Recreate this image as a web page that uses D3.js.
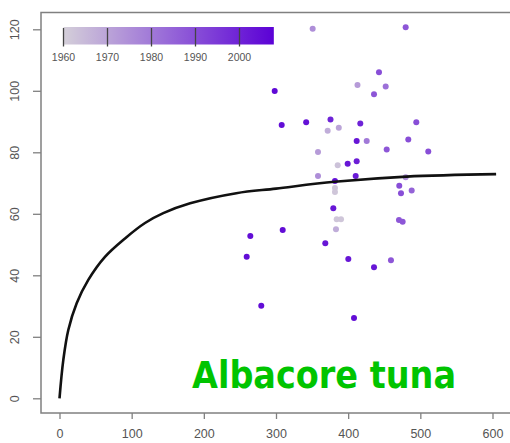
<!DOCTYPE html>
<html>
<head>
<meta charset="utf-8">
<script src="https://cdn.jsdelivr.net/npm/d3@7"></script>
<style>
  body { margin: 0; background: #fff; }
  svg { display: block; }
</style>
</head>
<body>
<script>
// scatter: length-at-age observations, coloured by year
let ages = [350.8, 479.7, 442.7, 412.9, 452.0, 435.8, 298.2, 307.9, 341.8, 375.5,
            371.6, 387.0, 416.8, 494.4, 411.8, 425.7, 483.3, 453.4, 511.0, 358.2,
            385.5, 399.3, 411.8, 358.2, 410.4, 381.7, 479.7, 381.7, 381.7, 379.4,
            384.1, 390.1, 383.1, 264.4, 309.3, 368.3, 259.4, 400.2, 435.8, 279.6,
            408.1, 470.8, 473.2, 488.0, 470.4, 475.5, 459.3];
let lengths = [120.2, 120.7, 106.0, 101.9, 101.4, 98.9, 99.9, 88.9, 89.8, 90.7,
               87.0, 88.0, 89.4, 89.8, 83.7, 83.7, 84.2, 80.9, 80.3, 80.1,
               75.8, 76.3, 77.1, 72.3, 72.3, 70.7, 71.9, 68.4, 67.1, 61.8,
               58.2, 58.2, 55.0, 52.8, 54.7, 50.4, 46.0, 45.3, 42.6, 30.1,
               26.1, 69.1, 66.7, 67.6, 58.0, 57.4, 44.9];
let years = [1975, 1988, 1990, 1972, 1982, 1988, 2006, 2005, 2004, 2000,
             1968, 1970, 2000, 1990, 2003, 1980, 1990, 1988, 1990, 1972,
             1963, 2003, 2001, 1975, 2002, 2004, 1975, 1962, 1962, 2003,
             1962, 1962, 1968, 2005, 2005, 2003, 2005, 2003, 2003, 2005,
             2005, 1990, 1990, 1985, 1988, 1988, 1988];

// fitted growth curve
let curveAge = [0, 5.3, 12.2, 23.8, 39.9, 63, 90.8, 118.5, 143.8, 181, 245, 300, 381, 481, 605];
let curveLen = [0, 12.5, 22.2, 30.9, 38.5, 46.0, 52.0, 57.0, 60.2, 63.4, 66.7, 68.2, 70.4, 72.1, 72.9];

let xTicks = [0, 100, 200, 300, 400, 500, 600];
let yTicks = [0, 20, 40, 60, 80, 100, 120];
let legendYears = [1960, 1970, 1980, 1990, 2000];

let width = 510,
    height = 443;

let box = { left: 41, top: 12.5, bottom: 413, right: 530 };

let svg = d3.select('body')
  .append('svg')
    .attr('width', width)
    .attr('height', height);

let xScale = d3.scaleLinear()
  .domain([0, 600])
  .range([59.5, 492.5]);

let yScale = d3.scaleLinear()
  .domain([0, 120])
  .range([398.3, 29.3]);

let color = d3.scaleLinear()
  .domain([1960, 2008])
  .range(['#d4cfd9', '#5a00d6'])
  .interpolate(d3.interpolateRgb);

// plot frame (right side runs off the picture)
svg.append('rect')
  .attr('x', box.left)
  .attr('y', box.top)
  .attr('width', box.right - box.left)
  .attr('height', box.bottom - box.top)
  .attr('fill', 'none')
  .attr('stroke', '#808080')
  .attr('stroke-width', 1.5);

// x axis
let xAxis = svg.append('g')
  .attr('transform', `translate(0,${box.bottom})`)
  .call(d3.axisBottom(xScale).tickValues(xTicks).tickSize(6).tickPadding(10));
xAxis.select('.domain').remove();

// y axis
let yAxis = svg.append('g')
  .attr('transform', `translate(${box.left},0)`)
  .call(d3.axisLeft(yScale).tickValues(yTicks).tickSize(8).tickPadding(0));
yAxis.select('.domain').remove();
yAxis.selectAll('text')
  .attr('x', 0)
  .attr('dy', 0)
  .attr('text-anchor', 'middle')
  .attr('transform', 'translate(-26,0) rotate(-90)')
  .attr('dominant-baseline', 'central');

svg.selectAll('.tick line').attr('stroke', '#808080').attr('stroke-width', 1.3);
svg.selectAll('.tick text')
  .attr('fill', '#555')
  .style('font-family', 'Liberation Sans, Arial, sans-serif')
  .style('font-size', '12.5px');

// points
let points = ages.map((a, i) => ({ age: a, len: lengths[i], year: years[i] }));
points.sort((a, b) => a.year - b.year);

svg.selectAll('circle.obs')
  .data(points)
  .enter()
  .append('circle')
    .attr('class', 'obs')
    .attr('cx', d => xScale(d.age))
    .attr('cy', d => yScale(d.len))
    .attr('r', 3)
    .attr('fill', d => color(d.year));

// growth curve
let line = d3.line()
  .x(d => xScale(d[0]))
  .y(d => yScale(d[1]))
  .curve(d3.curveCatmullRom.alpha(0.5));

svg.append('path')
  .datum(curveAge.map((a, i) => [a, curveLen[i]]))
  .attr('d', line)
  .attr('fill', 'none')
  .attr('stroke', '#111')
  .attr('stroke-width', 2.6);

// colour legend
let lx = d3.scaleLinear().domain([1960, 2000]).range([63.5, 239.5]);
let legendEnd = 2007.8;

let grad = svg.append('defs').append('linearGradient')
  .attr('id', 'yearGrad')
  .attr('x1', '0%').attr('x2', '100%')
  .attr('y1', '0%').attr('y2', '0%');
d3.range(0, 11).forEach(i => {
  let yr = 1960 + (legendEnd - 1960) * i / 10;
  grad.append('stop')
    .attr('offset', `${i * 10}%`)
    .attr('stop-color', color(yr));
});

svg.append('rect')
  .attr('x', lx(1960))
  .attr('y', 27)
  .attr('width', lx(legendEnd) - lx(1960))
  .attr('height', 17.5)
  .attr('fill', 'url(#yearGrad)');

let legend = svg.append('g');
legend.selectAll('line')
  .data(legendYears)
  .enter()
  .append('line')
    .attr('x1', d => lx(d))
    .attr('x2', d => lx(d))
    .attr('y1', 28)
    .attr('y2', 46.5)
    .attr('stroke', '#444')
    .attr('stroke-width', 1.3);

legend.selectAll('text')
  .data(legendYears)
  .enter()
  .append('text')
    .attr('x', d => lx(d))
    .attr('y', 61)
    .attr('text-anchor', 'middle')
    .attr('fill', '#555')
    .style('font-family', 'Liberation Sans, Arial, sans-serif')
    .style('font-size', '10.5px')
    .text(d => d);

// species label
svg.append('text')
  .attr('x', 192)
  .attr('y', 388)
  .attr('textLength', 264)
  .attr('lengthAdjust', 'spacingAndGlyphs')
  .attr('fill', '#00c400')
  .style('font-family', 'DejaVu Sans, Verdana, sans-serif')
  .style('font-weight', 'bold')
  .style('font-size', '37px')
  .text('Albacore tuna');
</script>
</body>
</html>
